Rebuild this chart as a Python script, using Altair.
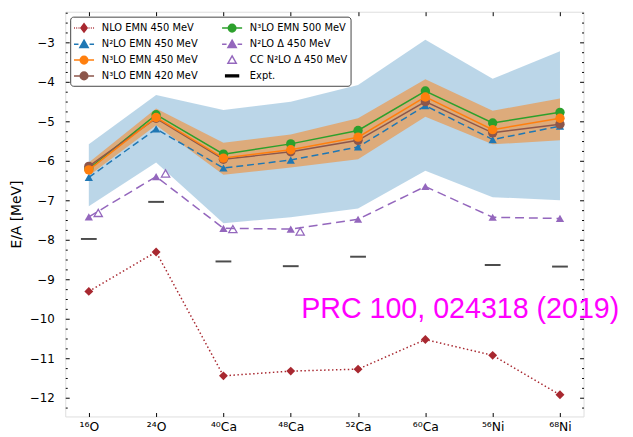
import json
import altair as alt
import pandas as pd

# ---------------- data ----------------
nuclei = ["¹⁶O", "²⁴O", "⁴⁰Ca", "⁴⁸Ca", "⁵²Ca", "⁶⁰Ca", "⁵⁶Ni", "⁶⁸Ni"]

nlo_emn450 = [-9.31, -8.31, -11.45, -11.33, -11.28, -10.53, -10.93, -11.93]
n2lo_emn450 = [-6.42, -5.19, -6.18, -5.98, -5.65, -4.60, -5.46, -5.12]
n2lo_emn450_low = [-7.15, -6.04, -7.58, -7.43, -7.21, -6.25, -6.92, -7.00]
n2lo_emn450_high = [-5.58, -4.33, -4.71, -4.50, -4.08, -2.93, -3.92, -3.22]
n3lo_emn450 = [-6.23, -4.90, -5.93, -5.72, -5.40, -4.38, -5.21, -4.92]
n3lo_emn450_low = [-6.38, -5.10, -6.35, -6.17, -5.96, -4.88, -5.58, -5.48]
n3lo_emn450_high = [-6.04, -4.67, -5.54, -5.33, -4.92, -3.93, -4.73, -4.42]
n3lo_emn420 = [-6.14, -4.92, -5.96, -5.77, -5.48, -4.50, -5.29, -5.07]
n3lo_emn500 = [-6.20, -4.83, -5.83, -5.57, -5.23, -4.23, -5.04, -4.77]
n2lo_delta450 = [-7.42, -6.40, -7.71, -7.73, -7.48, -6.65, -7.43, -7.46]
cc_n2lo_delta450 = [-7.32, -6.32, -7.73, -7.79]
expt = [-7.98, -7.04, -8.55, -8.67, -8.43, None, -8.64, -8.68]

y_major = [-3, -4, -5, -6, -7, -8, -9, -10, -11, -12]
note_text = "PRC 100, 024318 (2019)"
note_pos = (3.155, -9.98)

# ---------------- styling ----------------
RED, BLUE, ORANGE = "#a82830", "#1f77b4", "#ff7f0e"
BROWN, GREEN, PURPLE = "#8c564b", "#2ca02c", "#9467bd"
FONT = "DejaVu Sans"
idx = list(range(len(nuclei)))
cc_shift = 0.14

y_ticks = [round(-12.25 + 0.25 * i, 2) for i in range(41)]
is_minor = "abs(datum.value - round(datum.value)) > 0.01"

xs = alt.Scale(domain=[-0.35, 7.35], nice=False, zero=False)
ys = alt.Scale(domain=[-12.48, -2.22], nice=False, zero=False)

x_labels = json.dumps(nuclei, ensure_ascii=False)

ax_bottom = alt.Axis(orient="bottom", values=idx, labelExpr=f"{x_labels}[round(datum.value)]",
                     offset=-4, tickSize=4, tickColor="black", domain=False, grid=False,
                     labelPadding=4, labelFont=FONT, labelFontSize=12.5, labelColor="black", title=None)
ax_left = alt.Axis(orient="left", values=y_ticks,
                   labelExpr=f"{is_minor} ? '' : replace(format(datum.value, 'd'), '-', '\u2212')",
                   offset=-4, tickSize=4, tickColor="black",
                   tickDash={"condition": {"test": is_minor, "value": [0, 2, 2, 0]}, "value": [4, 0]},
                   domain=False, grid=False, labelPadding=11, labelFont=FONT, labelFontSize=12,
                   labelColor="black", title="E/A [MeV]", titleFont=FONT, titleFontSize=14,
                   titleFontWeight="normal", titleColor="black", titlePadding=6)
ax_top = alt.Axis(orient="top", values=idx, labels=False, offset=-4, tickSize=4, tickColor="black",
                  domain=False, grid=False, title=None)
ax_right = alt.Axis(orient="right", values=y_ticks, labels=False, offset=-4, tickSize=4,
                    tickColor="black",
                    tickDash={"condition": {"test": is_minor, "value": [0, 2, 2, 0]}, "value": [4, 0]},
                    domain=False, grid=False, title=None)


def X(field="x", axis=None):
    return alt.X(f"{field}:Q", scale=xs, axis=axis)


def Y(field="y", axis=None):
    return alt.Y(f"{field}:Q", scale=ys, axis=axis)


def frame(vals):
    return pd.DataFrame({"x": idx, "y": vals})


layers = []

# uncertainty bands
band_b = pd.DataFrame({"x": idx, "lo": n2lo_emn450_low, "hi": n2lo_emn450_high})
layers.append(alt.Chart(band_b).mark_area(color=BLUE, opacity=0.3).encode(
    x=X(axis=ax_bottom), y=Y("lo", axis=ax_left), y2="hi:Q"))
band_o = pd.DataFrame({"x": idx, "lo": n3lo_emn450_low, "hi": n3lo_emn450_high})
layers.append(alt.Chart(band_o).mark_area(color=ORANGE, opacity=0.5).encode(
    x=X(), y=Y("lo"), y2="hi:Q"))

series = [
    (nlo_emn450, RED, "diamond", [1.5, 2.5], 81),
    (n2lo_delta450, PURPLE, "triangle-up", [9, 5], 70),
    (n2lo_emn450, BLUE, "triangle-up", [7, 4], 70),
    (n3lo_emn500, GREEN, "circle", None, 90),
    (n3lo_emn420, BROWN, "circle", None, 90),
    (n3lo_emn450, ORANGE, "circle", None, 90),
]
for vals, col, shp, dash, size in series:
    df = frame(vals)
    if dash:
        ln = alt.Chart(df).mark_line(color=col, strokeWidth=1.5, strokeDash=dash)
    else:
        ln = alt.Chart(df).mark_line(color=col, strokeWidth=1.5)
    layers.append(ln.encode(x=X(), y=Y()))
    layers.append(alt.Chart(df).mark_point(color=col, shape=shp, filled=True, size=size, opacity=1)
                  .encode(x=X(), y=Y()))

cc_df = pd.DataFrame({"x": [i + cc_shift for i in idx[:len(cc_n2lo_delta450)]], "y": cc_n2lo_delta450})
layers.append(alt.Chart(cc_df).mark_point(color=PURPLE, shape="triangle-up", filled=False,
                                           size=70, strokeWidth=1.3, opacity=1)
              .encode(x=X(), y=Y()))

ex_df = pd.DataFrame({"x": idx, "y": expt}).dropna()
layers.append(alt.Chart(ex_df).mark_tick(color="black", orient="horizontal", thickness=2, size=16)
              .encode(x=X(axis=ax_top), y=Y(axis=ax_right)))

note_df = pd.DataFrame({"x": [note_pos[0]], "y": [note_pos[1]], "t": [note_text]})
layers.append(alt.Chart(note_df).mark_text(align="left", baseline="alphabetic", font="Liberation Sans",
                                           fontSize=29, color="#ff00ff")
              .encode(x=X(), y=Y(), text="t:N"))

# legend (invisible anchor points; symbols drawn as custom paths); filled column by column
legend_order = ["NLO EMN 450 MeV", "N²LO EMN 450 MeV", "N³LO EMN 450 MeV", "N³LO EMN 420 MeV",
                "N³LO EMN 500 MeV", "N²LO Δ 450 MeV", "CC N²LO Δ 450 MeV", "Expt."]
legend_first = [nlo_emn450[0], n2lo_emn450[0], n3lo_emn450[0], n3lo_emn420[0],
                n3lo_emn500[0], n2lo_delta450[0], cc_n2lo_delta450[0], expt[0]]

solid = "M-1.45,0H1.45"
dashed = "M-1.45,0H-0.8M0.8,0H1.45"
dotted = "".join(f"M{a:.2f},0h0.13" for a in [-1.45, -1.12, -0.79, 0.66, 0.99, 1.32])
diamond = "M0,-0.6L0.45,0L0,0.6L-0.45,0Z"
tri = "M0,-0.6L0.6,0.45L-0.6,0.45Z"
circ = "M-0.55,0A0.55,0.55 0 1,0 0.55,0A0.55,0.55 0 1,0 -0.55,0Z"
bar = "M-0.93,-0.14H0.93V0.14H-0.93Z"
leg_paths = [dotted + diamond, dashed + tri, solid + circ, solid + circ,
             solid + circ, dashed + tri, tri, bar]
leg_stroke = [RED, BLUE, ORANGE, BROWN, GREEN, PURPLE, PURPLE, "black"]
leg_fill = [RED, BLUE, ORANGE, BROWN, GREEN, PURPLE, "white", "black"]

leg = alt.Legend(title=None, orient="top-left", offset=5, columns=2, columnPadding=20, rowPadding=1,
                 padding=3, symbolOffset=3, symbolSize=196, symbolStrokeWidth=1.5, symbolOpacity=1,
                 labelFont=FONT, labelFontSize=10, labelColor="black", labelOffset=10,
                 strokeColor="#444", fillColor="white", cornerRadius=3)
leg_df = pd.DataFrame({"x": [0] * len(legend_order), "y": legend_first, "s": legend_order})
layers.append(alt.Chart(leg_df).mark_point(opacity=0, filled=True).encode(
    x=X(), y=Y(),
    shape=alt.Shape("s:N", scale=alt.Scale(domain=legend_order, range=leg_paths), legend=leg),
    fill=alt.Fill("s:N", scale=alt.Scale(domain=legend_order, range=leg_fill), legend=leg),
    stroke=alt.Stroke("s:N", scale=alt.Scale(domain=legend_order, range=leg_stroke), legend=leg),
))

chart = alt.layer(*layers).resolve_axis(x="independent", y="independent").properties(
    width=525, height=410,
    padding={"left": 58, "top": 1, "right": 42, "bottom": 18},
    autosize=alt.AutoSizeParams(type="none"),
).configure_view(stroke="black", strokeWidth=1).configure(background="white")

chart.save("out.html", embed_options={"renderer": "svg", "actions": False})
